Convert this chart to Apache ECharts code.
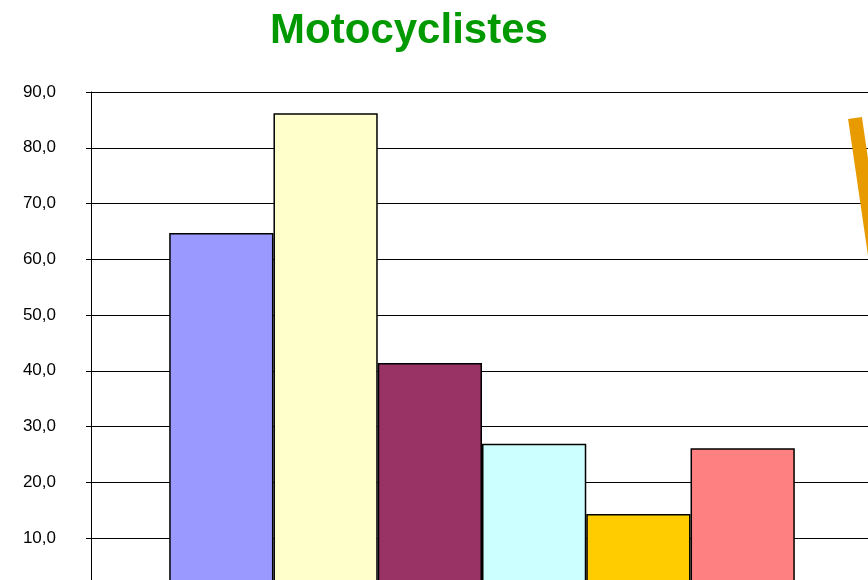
<!DOCTYPE html>
<html>
<head>
<meta charset="utf-8">
<script src="https://cdn.jsdelivr.net/npm/echarts@6/dist/echarts.min.js"></script>
<style>
  html, body { margin: 0; padding: 0; overflow: hidden; background: #fff; }
  #chart { width: 900px; height: 620px; }
</style>
</head>
<body>
<div id="chart"></div>
<script>
// data
const categories = ['Motocyclistes']
const seriesNames = ['Série 1', 'Série 2', 'Série 3', 'Série 4', 'Série 5', 'Série 6']
const seriesValues = [64.7, 86.2, 41.4, 26.9, 14.3, 26.1]
const seriesColors = ['#9999FF', '#FFFFCC', '#993366', '#CCFFFF', '#FFCC00', '#FF8080']
const yTicks = [0, 10, 20, 30, 40, 50, 60, 70, 80, 90]

// orange stroke cut off at the right edge (overlay coords)
const accentX = [855, 876]
const accentY = [118, 262]

const chart = echarts.init(document.getElementById('chart'))

const barSeries = seriesNames.map((name, i) => ({
  name,
  type: 'bar',
  xAxisIndex: 0,
  yAxisIndex: 0,
  barGap: '0%',
  barCategoryGap: '20%',
  data: [seriesValues[i]],
  itemStyle: { color: seriesColors[i], borderColor: '#000', borderWidth: 1.5 },
  silent: true,
}))

chart.setOption({
  animation: false,
  title: {
    text: 'Motocyclistes',
    left: 404,
    textAlign: 'center',
    top: 5,
    textStyle: {
      color: '#009900',
      fontFamily: 'Liberation Sans, Arial, sans-serif',
      fontWeight: 'bold',
      fontSize: 42,
    },
  },
  grid: [
    { left: 91, right: 27, top: 92, bottom: 26.25 },
    { left: 0, right: 0, top: 0, bottom: 0 },
  ],
  xAxis: [
    {
      type: 'category',
      gridIndex: 0,
      data: categories,
      axisLine: { show: false },
      axisTick: { show: false },
      axisLabel: { show: false },
    },
    { type: 'value', gridIndex: 1, min: 0, max: 900, show: false },
  ],
  yAxis: [
    {
      type: 'value',
      gridIndex: 0,
      min: yTicks[0],
      max: yTicks[yTicks.length - 1],
      interval: 10,
      axisLine: { show: true, lineStyle: { color: '#000', width: 1 } },
      axisTick: { show: true, length: 5, lineStyle: { color: '#000' } },
      axisLabel: {
        margin: 35,
        color: '#000',
        fontFamily: 'Liberation Sans, Arial, sans-serif',
        fontSize: 17,
        formatter: v => v.toFixed(1).replace('.', ','),
      },
      splitLine: { show: true, lineStyle: { color: '#000', width: 1 } },
    },
    { type: 'value', gridIndex: 1, min: 0, max: 620, inverse: true, show: false },
  ],
  series: [
    ...barSeries,
    {
      name: 'accent',
      type: 'line',
      xAxisIndex: 1,
      yAxisIndex: 1,
      data: accentX.map((x, i) => [x, accentY[i]]),
      showSymbol: false,
      lineStyle: { color: '#E89B00', width: 14, cap: 'butt' },
      silent: true,
    },
  ],
})
</script>
</body>
</html>
